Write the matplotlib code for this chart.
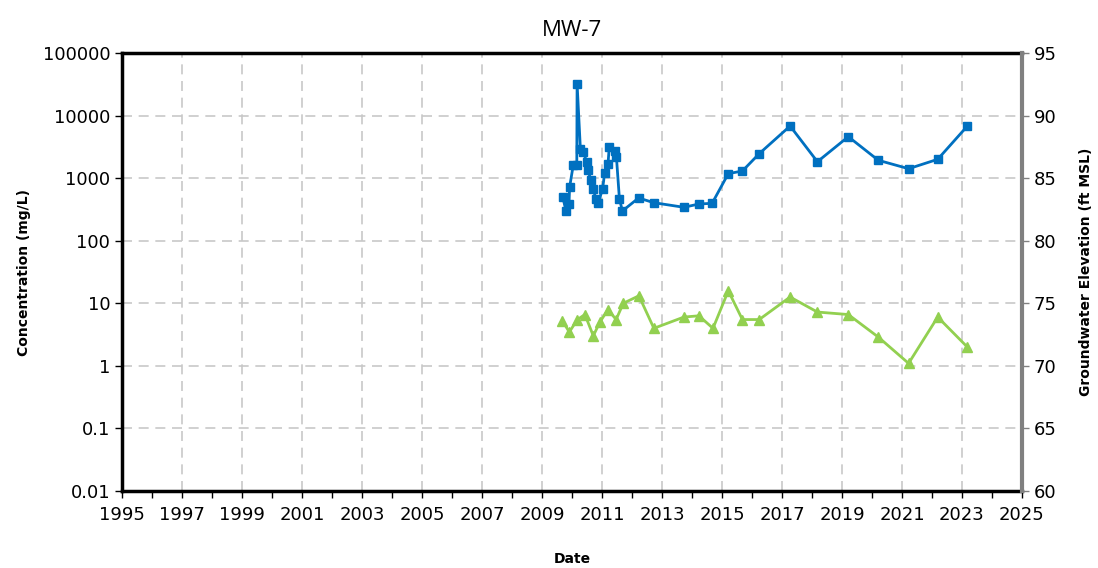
import numpy as np
import matplotlib
matplotlib.use("Agg")
import matplotlib.pyplot as plt
from matplotlib.ticker import FixedLocator, FixedFormatter, MultipleLocator

# concentration (left axis, log)
conc_dates = [2009.69, 2009.80, 2009.90, 2009.92, 2010.04, 2010.16, 2010.17, 2010.28,
              2010.38, 2010.49, 2010.54, 2010.62, 2010.71, 2010.80, 2010.88, 2011.02,
              2011.09, 2011.20, 2011.24, 2011.42, 2011.48, 2011.58, 2011.68, 2012.22,
              2012.73, 2013.73, 2014.23, 2014.67, 2015.21, 2015.68, 2016.24, 2017.27,
              2018.18, 2019.21, 2020.21, 2021.22, 2022.19, 2023.18]
conc_vals = [505, 299, 386, 714, 1600, 1640, 32000, 2890,
             2630, 1790, 1350, 933, 662, 459, 405, 679,
             1220, 1660, 3110, 2720, 2200, 469, 299, 482,
             405, 342, 386, 396, 1180, 1300, 2460, 6810,
             1830, 4600, 1930, 1415, 2000, 6810]

# groundwater elevation (right axis)
gw_dates = [2009.68, 2009.91, 2010.18, 2010.43, 2010.71, 2010.93, 2011.20, 2011.47,
            2011.71, 2012.23, 2012.73, 2013.73, 2014.23, 2014.70, 2015.21, 2015.68,
            2016.24, 2017.27, 2018.18, 2019.21, 2020.21, 2021.22, 2022.19, 2023.18]
gw_vals = [73.6, 72.7, 73.7, 74.1, 72.4, 73.5, 74.5, 73.7,
           75.0, 75.6, 73.0, 73.9, 74.0, 73.0, 76.0, 73.7,
           73.7, 75.5, 74.3, 74.1, 72.3, 70.2, 73.9, 71.5]

plt.rcParams['font.family'] = ['DejaVu Sans']

fig = plt.figure(figsize=(10.98, 5.68), dpi=100)
ax = fig.add_axes([122/1098, 1 - 491/568, 900/1098, 438/568])

blue = '#0070C0'
green = '#92D050'

ax.plot(conc_dates, conc_vals, color=blue, lw=2, marker='s', ms=6, zorder=3)
ax.set_yscale('log')
ax.set_ylim(0.01, 100000)
ax.set_xlim(1995, 2025)

yt = [0.01, 0.1, 1, 10, 100, 1000, 10000, 100000]
ax.yaxis.set_major_locator(FixedLocator(yt))
ax.yaxis.set_major_formatter(FixedFormatter(['0.01', '0.1', '1', '10', '100', '1000', '10000', '100000']))
ax.yaxis.set_minor_locator(FixedLocator([]))
ax.xaxis.set_major_locator(MultipleLocator(2))
ax.xaxis.set_minor_locator(MultipleLocator(1))
ax.set_xticks(np.arange(1995, 2026, 2))

ax.grid(True, which='major', color='#C8C8C8', ls=(0, (6, 4)), lw=1.2)
ax.set_axisbelow(True)

for s in ['left', 'bottom', 'top']:
    ax.spines[s].set_linewidth(2.5)
    ax.spines[s].set_color('black')
ax.spines['right'].set_visible(False)

ax.tick_params(axis='both', which='major', direction='out', length=5, width=1, labelsize=13, color='black')
ax.tick_params(axis='x', which='minor', direction='out', length=5, width=1)
ax.tick_params(axis='x', pad=6)

ax.set_ylabel('Concentration (mg/L)', fontsize=10, fontweight='bold', labelpad=8)
ax.set_xlabel('Date', fontsize=10, fontweight='bold', labelpad=20)
ax.set_title('MW-7', fontsize=16, pad=12, family='Open Sans')

ax2 = ax.twinx()
ax2.plot(gw_dates, gw_vals, color=green, lw=2, marker='^', ms=7, zorder=3)
ax2.set_ylim(60, 95)
ax2.yaxis.set_major_locator(MultipleLocator(5))
for s in ['left', 'bottom', 'top']:
    ax2.spines[s].set_visible(False)
ax2.spines['right'].set_linewidth(3)
ax2.spines['right'].set_color('#808080')
ax2.tick_params(axis='y', direction='out', length=5, width=1, labelsize=13, color='#808080')
ax2.set_ylabel('Groundwater Elevation (ft MSL)', fontsize=10, fontweight='bold', labelpad=16)

fig.savefig('out.png', dpi=100)
